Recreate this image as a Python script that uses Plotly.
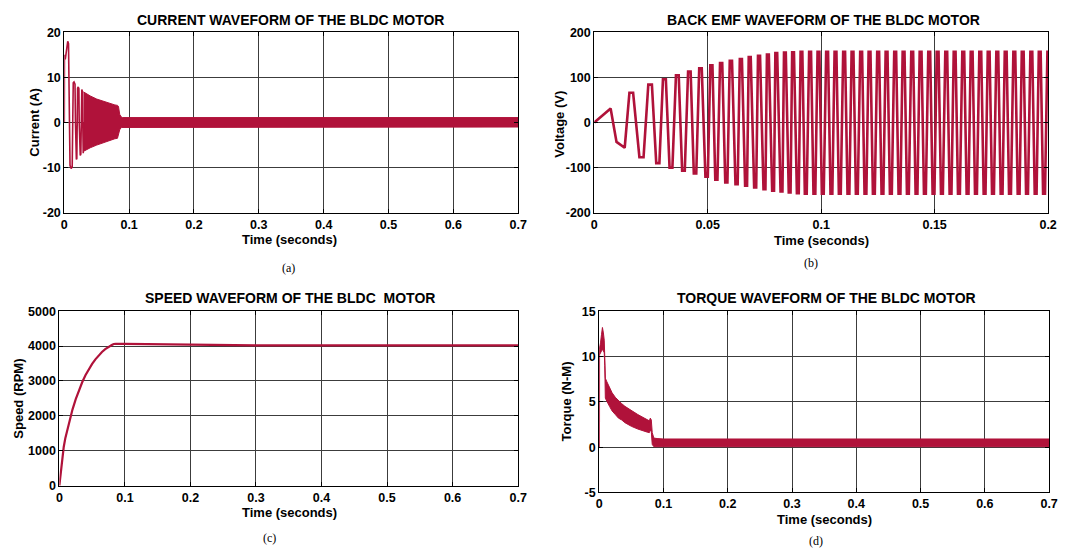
import plotly.graph_objects as go

RED = "#B0123A"
FONT = "Liberation Sans, Arial, sans-serif"

# ---------------- (a) phase current ----------------
cur_t = [0, 0.0002, 0.0015, 0.0035, 0.0053, 0.0065, 0.0078,
         0.0088, 0.0105, 0.0122, 0.0130,
         0.0138, 0.0150, 0.0165, 0.0172,
         0.0178, 0.0186, 0.0193, 0.0198,
         0.0205, 0.0215, 0.0225, 0.0230,
         0.0236, 0.0246, 0.0255, 0.0259,
         0.0263, 0.0270, 0.0277, 0.0281,
         0.0284, 0.0292, 0.0298]
cur_v = [0, 15, 14, 16.5, 18, 17.5, 0,
         -9.5, -10.2, -9.8, 0,
         8.8, 9.0, 8.5, 0,
         -7.9, -8.2, -8.0, 0,
         7.6, 7.9, 7.5, 0,
         -7.0, -7.3, -7.0, 0,
         7.1, 7.3, 7.0, 0,
         -6.6, -6.8, 0]
cur_band_t = [0.0295, 0.035, 0.04, 0.05, 0.06, 0.07, 0.078, 0.082, 0.0835,
              0.0855, 0.088, 0.09, 0.2, 0.3, 0.4, 0.5, 0.6, 0.7]
cur_band_hi = [6.8, 6.3, 5.9, 5.2, 4.7, 4.2, 3.9, 3.8, 3.6,
               1.8, 1.2, 1.1, 1.1, 1.1, 1.1, 1.1, 1.1, 1.1]
cur_band_lo = [-6.4, -6.0, -5.6, -5.0, -4.4, -4.0, -3.6, -3.5, -3.2,
               -1.6, -1.1, -1.0, -1.0, -1.0, -1.0, -1.0, -1.0, -1.0]

# ---------------- (b) back EMF ----------------
emf_start_t = [0, 0.0072, 0.0098, 0.0134]
emf_start_v = [0, 31, -43, -56]
emf_pos_t = [0.0163, 0.0246, 0.0309, 0.0366, 0.0419, 0.0468, 0.0516, 0.0559,
             0.0602, 0.0646, 0.0685, 0.0726, 0.0765, 0.0802, 0.0840, 0.0876,
             0.0913, 0.0951, 0.0988, 0.1026, 0.1063, 0.1101, 0.1138, 0.1176,
             0.1213, 0.1251, 0.1288, 0.1326, 0.1363, 0.1401, 0.1438, 0.1476,
             0.1513, 0.1551, 0.1588, 0.1626, 0.1663, 0.1701, 0.1738, 0.1776,
             0.1813, 0.1851, 0.1888, 0.1926, 0.1963, 0.2001]
emf_pos_v = [66, 84, 96, 105, 113, 120, 127, 132,
             137, 141, 145, 148, 151, 154, 155, 156,
             157, 157, 157, 157, 157, 157, 157, 157,
             157, 157, 157, 157, 157, 157, 157, 157,
             157, 157, 157, 157, 157, 157, 157, 157,
             157, 157, 157, 157, 157, 157]
emf_neg_t = [0.0208, 0.0280, 0.0338, 0.0393, 0.0444, 0.0495, 0.0538, 0.0582,
             0.0627, 0.0669, 0.0709, 0.0750, 0.0788, 0.0825, 0.0861, 0.0897,
             0.0932, 0.0970, 0.1007, 0.1045, 0.1082, 0.1120, 0.1157, 0.1195,
             0.1232, 0.1270, 0.1307, 0.1345, 0.1382, 0.1420, 0.1457, 0.1495,
             0.1532, 0.1570, 0.1607, 0.1645, 0.1682, 0.1720, 0.1757, 0.1795,
             0.1832, 0.1870, 0.1907, 0.1945, 0.1982]
emf_neg_v = [-77, -90, -100, -107, -113, -120, -127, -133,
             -137, -140, -144, -148, -151, -153, -155, -157,
             -158, -158, -158, -158, -158, -158, -158, -158,
             -158, -158, -158, -158, -158, -158, -158, -158,
             -158, -158, -158, -158, -158, -158, -158, -158,
             -158, -158, -158, -158, -158]
FLAT_FRAC = 0.11  # half flat-top width as a fraction of the local period

# ---------------- (c) speed ----------------
spd_t = [0, 0.001, 0.003, 0.005, 0.0066, 0.009, 0.012, 0.016, 0.02, 0.025,
         0.03, 0.035, 0.04, 0.045, 0.05, 0.055, 0.06, 0.065, 0.07, 0.075,
         0.08, 0.083, 0.086, 0.1, 0.15, 0.2, 0.3, 0.4, 0.5, 0.6, 0.7]
spd_v = [0, 200, 500, 850, 1100, 1350, 1600, 1900, 2180, 2480,
         2740, 2970, 3170, 3340, 3490, 3620, 3730, 3830, 3910, 3980,
         4030, 4060, 4065, 4060, 4045, 4030, 4020, 4020, 4020, 4020, 4020]

# ---------------- (d) torque ----------------
trq_t = [0, 0.0001, 0.0006]
trq_v = [0, 11.0, 10.8]
trq_band_t = [0.0005, 0.002, 0.0035, 0.005, 0.0065, 0.0078, 0.0086, 0.0095,
              0.012, 0.016, 0.02, 0.025, 0.03, 0.035, 0.04, 0.05, 0.06, 0.065,
              0.07, 0.075, 0.078, 0.0795, 0.081, 0.0825, 0.085, 0.09, 0.1,
              0.2, 0.3, 0.4, 0.5, 0.6, 0.7]
trq_band_hi = [11.0, 11.5, 12.4, 13.2, 12.6, 11.8, 10.0, 7.6,
               7.2, 6.6, 6.0, 5.5, 5.1, 4.8, 4.5, 4.0, 3.6, 3.4,
               3.2, 3.0, 2.9, 3.2, 3.0, 1.6, 1.0, 0.95, 0.9,
               0.9, 0.9, 0.9, 0.9, 0.9, 0.9]
trq_band_lo = [10.2, 10.4, 10.6, 10.8, 10.6, 10.4, 9.0, 5.4,
               5.0, 4.5, 4.0, 3.6, 3.2, 3.0, 2.7, 2.3, 2.0, 1.9,
               1.75, 1.65, 1.6, 1.9, 1.7, 0.3, 0.05, 0.05, 0.05,
               0.05, 0.05, 0.05, 0.05, 0.05, 0.05]

# ---------------- build back-EMF polyline from the read flats ----------------
flats = sorted(zip(emf_pos_t + emf_neg_t, emf_pos_v + emf_neg_v))
emf_x = list(emf_start_t)
emf_y = list(emf_start_v)
centers = [c for c, _ in flats]
for i, (c, v) in enumerate(flats):
    prev_c = centers[i - 1] if i > 0 else emf_start_t[-1]
    next_c = centers[i + 1] if i + 1 < len(centers) else c + (c - prev_c)
    h = FLAT_FRAC * (next_c - prev_c)
    emf_x += [c - h, c + h]
    emf_y += [v, v]


def band(t, hi, lo, xa, ya):
    return go.Scatter(x=t + t[::-1], y=hi + lo[::-1], fill="toself",
                      fillcolor=RED, mode="lines",
                      line=dict(color=RED, width=1), xaxis=xa, yaxis=ya,
                      hoverinfo="skip", showlegend=False)


def line(x, y, xa, ya, w):
    return go.Scatter(x=x, y=y, mode="lines", line=dict(color=RED, width=w),
                      xaxis=xa, yaxis=ya, hoverinfo="skip", showlegend=False)


fig = go.Figure()
fig.add_trace(band(cur_band_t, cur_band_hi, cur_band_lo, "x", "y"))
fig.add_trace(line(cur_t, cur_v, "x", "y", 1.6))
fig.add_trace(line(emf_x, emf_y, "x2", "y2", 2.6))
fig.add_trace(line(spd_t, spd_v, "x3", "y3", 2.2))
fig.add_trace(band(trq_band_t, trq_band_hi, trq_band_lo, "x4", "y4"))
fig.add_trace(line(trq_t, trq_v, "x4", "y4", 1.6))

W, H = 1068, 557


def px(x):
    return x / W


def py(y):
    return 1 - y / H


tick_font = dict(family=FONT, size=12.5, color="black", weight="bold")


def axis(dom, anchor, rng, vals, texts):
    return dict(domain=dom, anchor=anchor, range=rng, tickvals=vals,
                ticktext=texts, showgrid=True, gridcolor="#3c3c3c",
                gridwidth=1, zeroline=False, showline=True, linecolor="black",
                linewidth=1, mirror="allticks", ticks="inside", ticklen=4,
                tickcolor="black", tickfont=tick_font)


t07 = [0, 0.1, 0.2, 0.3, 0.4, 0.5, 0.6, 0.7]
t07_txt = ["0", "0.1", "0.2", "0.3", "0.4", "0.5", "0.6", "0.7"]
t02 = [0, 0.05, 0.1, 0.15, 0.2]
t02_txt = ["0", "0.05", "0.1", "0.15", "0.2"]

fig.update_layout(
    width=W, height=H, margin=dict(l=0, r=0, t=0, b=0),
    paper_bgcolor="white", plot_bgcolor="white",
    xaxis=axis([px(62), px(521)], "y", [0, 0.7], t07, t07_txt),
    yaxis=axis([py(211), py(26)], "x", [-20, 20], [-20, -10, 0, 10, 20],
               ["-20", "-10", "0", "10", "20"]),
    xaxis2=axis([px(598), px(1057)], "y2", [0, 0.2], t02, t02_txt),
    yaxis2=axis([py(211), py(26)], "x2", [-200, 200],
                [-200, -100, 0, 100, 200], ["-200", "-100", "0", "100", "200"]),
    xaxis3=axis([px(57), px(521)], "y3", [0, 0.7], t07, t07_txt),
    yaxis3=axis([py(491), py(312)], "x3", [0, 5000],
                [0, 1000, 2000, 3000, 4000, 5000],
                ["0", "1000", "2000", "3000", "4000", "5000"]),
    xaxis4=axis([px(603), px(1058)], "y4", [0, 0.7], t07, t07_txt),
    yaxis4=axis([py(498), py(312)], "x4", [-5, 15], [-5, 0, 5, 10, 15],
                ["-5", "0", "5", "10", "15"]),
)

title_font = dict(family=FONT, size=14, color="black", weight="bold")
label_font = dict(family=FONT, size=13, color="black", weight="bold")
serif = dict(family="Liberation Serif, Times New Roman, serif", size=12,
             color="black")


def ann(text, x, y, font, angle=0):
    fig.add_annotation(text=text, x=px(x), y=py(y), xref="paper",
                       yref="paper", showarrow=False, font=font,
                       textangle=angle, xanchor="center", yanchor="middle")


ann("CURRENT WAVEFORM OF THE BLDC MOTOR", 291, 13, title_font)
ann("BACK EMF WAVEFORM OF THE BLDC MOTOR", 830, 13, title_font)
ann("SPEED WAVEFORM OF THE BLDC  MOTOR", 290, 298, title_font)
ann("TORQUE WAVEFORM OF THE BLDC MOTOR", 833, 298, title_font)

ann("Time (seconds)", 290, 239, label_font)
ann("Time (seconds)", 828, 240, label_font)
ann("Time (seconds)", 290, 519, label_font)
ann("Time (seconds)", 831, 526, label_font)

ann("Current (A)", 31, 118, label_font, -90)
ann("Voltage (V)", 563, 120, label_font, -90)
ann("Speed (RPM)", 16, 402, label_font, -90)
ann("Torque (N-M)", 570, 405, label_font, -90)

ann("(a)", 289, 268, serif)
ann("(b)", 817, 263, serif)
ann("(c)", 270, 545, serif)
ann("(d)", 822, 548, serif)

fig.write_html("out.html", config={"displayModeBar": False},
               post_script="document.body.style.margin='0';")
